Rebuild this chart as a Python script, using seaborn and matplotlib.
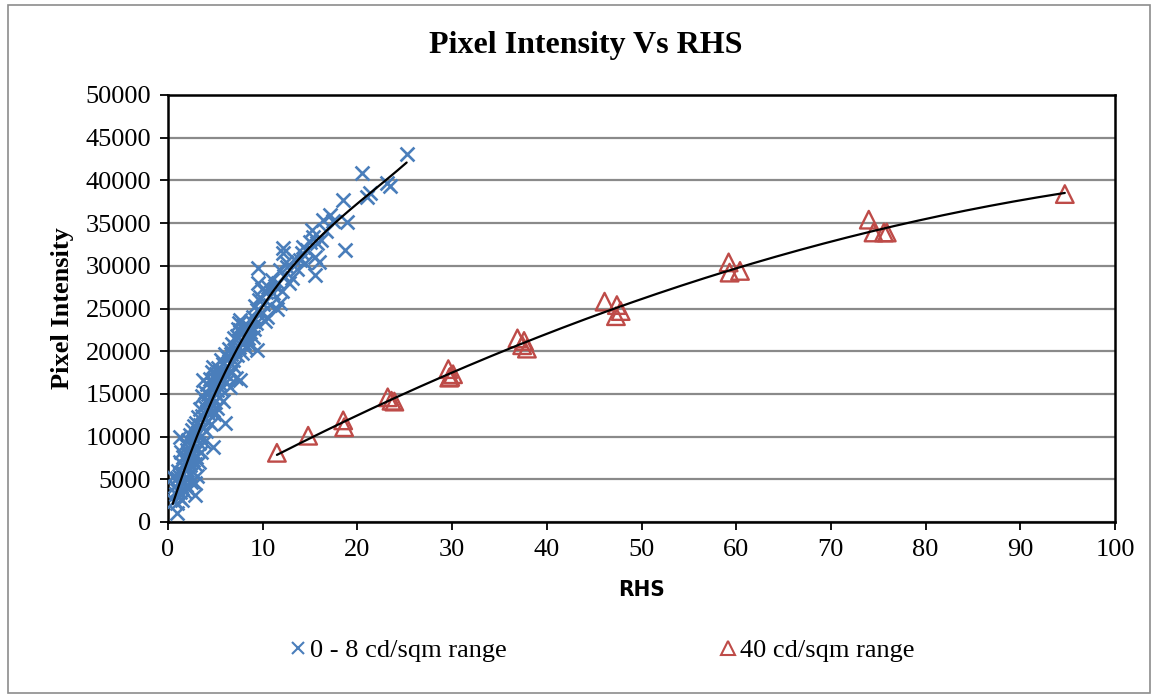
import numpy as np
import pandas as pd
import matplotlib
matplotlib.use("Agg")
import matplotlib.pyplot as plt
import seaborn as sns
from matplotlib.lines import Line2D
from matplotlib.patches import Rectangle

# ---------------- data ----------------
blue_pts = [
    (0.5, 5300), (0.6, 2500), (0.7, 4200), (0.8, 3300), (0.9, 1000), (0.9, 5100), (1.0, 2200), (1.0, 3800),
    (1.1, 4600), (1.1, 6000), (1.2, 2900), (1.2, 5400), (1.3, 3500), (1.3, 7000), (1.3, 10000), (1.4, 4200),
    (1.4, 8200), (1.5, 2600), (1.5, 5900), (1.6, 4800), (1.6, 7600), (1.7, 3600), (1.7, 6500), (1.8, 9100),
    (1.8, 5200), (1.9, 4300), (1.9, 7200), (2.0, 6100), (2.0, 8400), (2.1, 3900), (2.1, 9600), (2.2, 5600),
    (2.2, 7800), (2.3, 6700), (2.3, 10200), (2.4, 4700), (2.4, 8900), (2.5, 7300), (2.5, 10800), (2.6, 5900),
    (2.6, 9400), (2.7, 8100), (2.7, 11200), (2.8, 6800), (2.8, 4600), (2.9, 3200), (2.9, 9900), (3.0, 7600),
    (3.0, 11600), (3.1, 8600), (3.1, 5400), (3.2, 10500), (3.2, 12300), (3.3, 9200), (3.3, 7000), (3.4, 11400),
    (3.4, 13200), (3.5, 10100), (3.5, 8200), (3.6, 12400), (3.6, 14800), (3.7, 11000), (3.7, 16600), (3.8, 13600),
    (3.8, 9400), (3.9, 12100), (3.9, 15200), (4.0, 14200), (4.0, 10700), (4.1, 13000), (4.1, 16200), (4.2, 11800),
    (4.2, 15000), (4.3, 14000), (4.3, 12600), (4.4, 16800), (4.4, 13400), (4.5, 15700), (4.5, 11500), (4.6, 14600),
    (4.6, 17600), (4.7, 13100), (4.7, 16200), (4.8, 8800), (4.8, 18200), (4.9, 15200), (4.9, 12700), (5.0, 16800),
    (5.0, 14100), (5.1, 17300), (5.2, 15500), (5.2, 13400), (5.3, 18000), (5.4, 16300), (5.4, 14600), (5.5, 17700),
    (5.6, 19000), (5.6, 15600), (5.7, 16900), (5.8, 18500), (5.8, 14200), (5.9, 17500), (6.0, 11600), (6.0, 19700),
    (6.1, 16400), (6.2, 19300), (6.2, 18000), (6.3, 17100), (6.4, 20200), (6.5, 18600), (6.5, 15800), (6.6, 19700),
    (6.7, 17600), (6.8, 20800), (6.9, 19000), (7.0, 21500), (7.0, 18200), (7.1, 20100), (7.2, 16900), (7.3, 21800),
    (7.3, 19500), (7.4, 22600), (7.5, 20500), (7.5, 23300), (7.6, 16600), (7.6, 22500), (7.6, 23600), (7.7, 21200),
    (7.8, 19800), (7.8, 22000), (7.9, 23000), (8.0, 21000), (8.1, 22400), (8.2, 20400), (8.3, 23100), (8.4, 21600),
    (8.5, 22800), (8.6, 20900), (8.7, 22300), (8.8, 23500), (9.0, 21700), (9.0, 24000), (9.1, 22600), (9.2, 25300),
    (9.3, 23300), (9.4, 20100), (9.4, 24800), (9.5, 28000), (9.5, 29800), (9.6, 26000), (9.7, 26400), (9.8, 24500),
    (9.9, 27300), (10.0, 25500), (10.2, 23500), (10.3, 26900), (10.5, 24000), (10.6, 27500), (10.8, 25400),
    (11.0, 28300), (11.1, 26800), (11.3, 27600), (11.5, 25000), (11.6, 28000), (11.8, 25700), (11.8, 29500),
    (12.0, 27000), (12.1, 32100), (12.1, 31500), (12.3, 28800), (12.5, 30400), (12.6, 29900), (12.8, 28000),
    (13.1, 28600), (13.3, 30800), (13.6, 29600), (13.9, 30700), (14.1, 31500), (14.3, 32200), (14.5, 30300),
    (14.7, 31900), (15.0, 32800), (15.2, 34200), (15.3, 33400), (15.5, 31000), (15.5, 28900), (15.7, 32700),
    (15.9, 30500), (16.2, 33000), (16.4, 35400), (16.7, 34100), (17.1, 35900), (17.4, 35200), (18.5, 37700),
    (18.7, 31900), (18.9, 35100), (20.5, 40900), (21.0, 38100), (21.3, 38500), (23.1, 39700), (23.4, 39400),
    (25.2, 43100),
]
blue_x = [p[0] for p in blue_pts]
blue_y = [p[1] for p in blue_pts]

red_x = [11.5, 14.8, 18.5, 18.6, 23.2, 23.6, 23.9, 29.6, 29.8, 30.1, 29.7, 36.9, 37.6, 37.9, 37.4,
         46.1, 47.3, 47.4, 47.8, 59.2, 59.3, 60.4, 74.0, 74.5, 75.6, 75.9, 94.7]
red_y = [8100, 10100, 11900, 11100, 14600, 14200, 14100, 17900, 17000, 17300, 16900, 21500, 21200, 20300, 20700,
         25800, 24100, 25400, 24700, 30400, 29200, 29400, 35400, 33900, 33900, 33900, 38400]

series_names = ["0 - 8 cd/sqm range", "40 cd/sqm range"]
title = "Pixel Intensity Vs RHS"
x_label = "RHS"
y_label = "Pixel Intensity"
x_ticks = list(range(0, 101, 10))
y_ticks = list(range(0, 50001, 5000))

BLUE = "#4A7EBB"
RED = "#BE4B48"

# ---------------- figure ----------------
sns.set_theme(style="white")
plt.rcParams["font.family"] = ["Liberation Serif", "DejaVu Serif"]
for k in ["text.color", "axes.labelcolor", "xtick.color", "ytick.color"]:
    plt.rcParams[k] = "black"

fig = plt.figure(figsize=(11.58, 6.98), dpi=100)
ax = fig.add_axes([168 / 1158, 1 - 522 / 698, (1115 - 168) / 1158, (522 - 95) / 698])

# outer chart border
fig.patches.append(Rectangle((8 / 1158, 5 / 698), (1150 - 8) / 1158, (693 - 5) / 698,
                             transform=fig.transFigure, fill=False, edgecolor="#8C8C8C", linewidth=1.2))

# gridlines
ax.set_axisbelow(True)
ax.yaxis.grid(True, color="#8A8A8A", linewidth=1.6)
ax.xaxis.grid(False)

df_b = pd.DataFrame({"x": blue_x, "y": blue_y})
df_r = pd.DataFrame({"x": red_x, "y": red_y})

sns.scatterplot(data=df_b, x="x", y="y", ax=ax, marker="x", color=BLUE, s=100, linewidth=1.9, zorder=3)
sns.scatterplot(data=df_r, x="x", y="y", ax=ax, marker="^", s=160, facecolor="none",
                edgecolor=RED, linewidth=1.7, zorder=3)

# polynomial trendlines like Excel
for xs, ys, order in [(blue_x, blue_y, 3), (red_x, red_y, 2)]:
    c = np.polyfit(xs, ys, order)
    xx = np.linspace(min(xs), max(xs), 200)
    sns.lineplot(x=xx, y=np.polyval(c, xx), ax=ax, color="black", linewidth=1.6, zorder=4)

ax.set_xlim(0, 100)
ax.set_ylim(0, 50000)
ax.set_xticks(x_ticks)
ax.set_yticks(y_ticks)
ax.set_xticklabels([str(t) for t in x_ticks], fontsize=19)
ax.set_yticklabels([str(t) for t in y_ticks], fontsize=19)
ax.tick_params(axis="both", direction="out", length=6, width=1.3, color="black", pad=6,
               bottom=True, left=True, top=False, right=False)
for s in ax.spines.values():
    s.set_color("black")
    s.set_linewidth(1.8)

ax.set_xlabel(x_label, fontsize=16, fontweight="bold", family=["DejaVu Sans"], fontstretch="condensed",
              labelpad=14)
ax.set_ylabel(y_label, fontsize=19, fontweight="bold", labelpad=8)
fig.text(586 / 1158, 1 - 45 / 698, title, fontsize=23, fontweight="bold", ha="center", va="center")

handles = [
    Line2D([], [], marker="x", linestyle="none", color=BLUE, markersize=8, markeredgewidth=1.5),
    Line2D([], [], marker="^", linestyle="none", markerfacecolor="none", markeredgecolor=RED,
           markersize=10, markeredgewidth=1.5),
]
fig.legend(handles, series_names, loc="center", bbox_to_anchor=(602 / 1158, 1 - 650 / 698), ncol=2,
           frameon=False, fontsize=19, handlelength=0.6, handletextpad=0.15, columnspacing=8.1)

fig.savefig("out.png", dpi=100)
